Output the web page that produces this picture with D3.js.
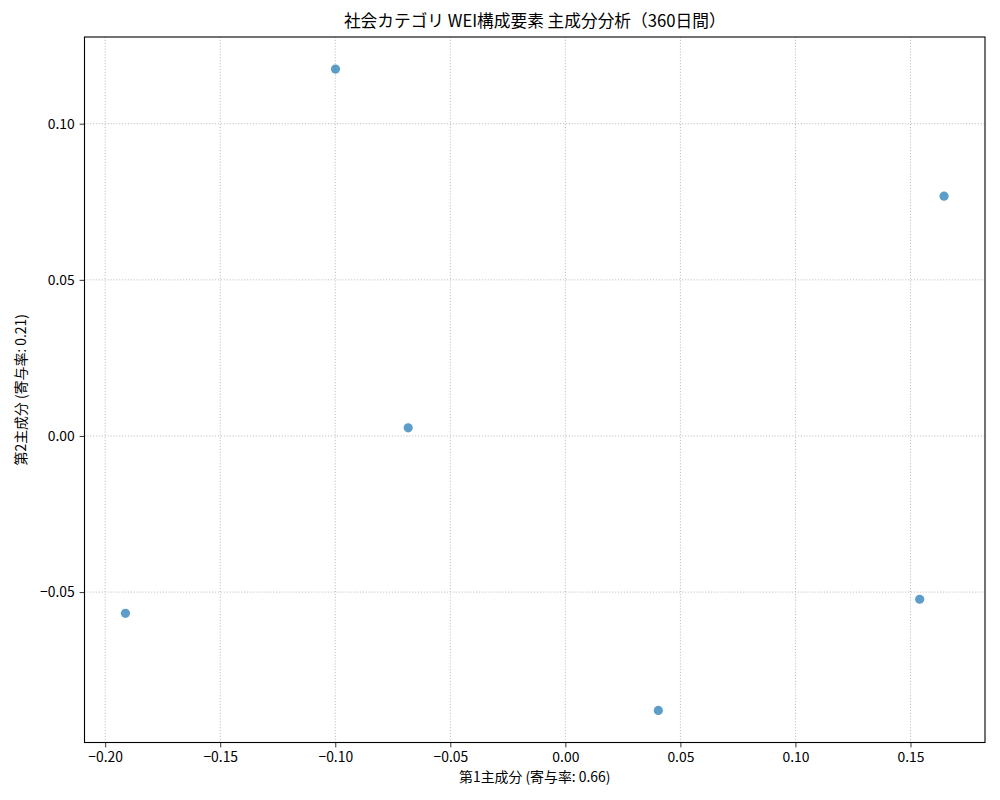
<!DOCTYPE html>
<html><head><meta charset="utf-8">
<script src="https://cdn.jsdelivr.net/npm/d3@7"></script>
<style>
body{margin:0;background:#fff;}
text{font-family:"Noto Sans CJK JP","Noto Sans",sans-serif;fill:#000;}
</style></head>
<body>
<svg id="chart" width="1000" height="800"></svg>
<script>
const pc1 = [-0.0999, 0.1646, -0.0683, -0.1912, 0.1540, 0.0404];
const pc2 = [0.1175, 0.0768, 0.0026, -0.0568, -0.0523, -0.0879];
const xTicks = [-0.20, -0.15, -0.10, -0.05, 0.00, 0.05, 0.10, 0.15];
const yTicks = [-0.05, 0.00, 0.05, 0.10];
const titleText = "社会カテゴリ WEI構成要素 主成分分析（360日間）";
const xLabel = "第1主成分 (寄与率: 0.66)";
const yLabel = "第2主成分 (寄与率: 0.21)";

const svg = d3.select("#chart");
const L = 84.5, R = 985, T = 37, B = 742.5;

function padded(arr){
  const mn = d3.min(arr), mx = d3.max(arr), m = (mx - mn) * 0.05;
  return [mn - m, mx + m];
}
const x = d3.scaleLinear().domain(padded(pc1)).range([L, R]);
const y = d3.scaleLinear().domain(padded(pc2)).range([B, T]);
const fmt = v => d3.format(".2f")(v).replace("-", "\u2212");

// grid
const grid = svg.append("g");
grid.selectAll("line.gx").data(xTicks).join("line")
  .attr("x1", d => x(d)).attr("x2", d => x(d)).attr("y1", T).attr("y2", B)
  .attr("stroke", "#bdbdbd").attr("stroke-width", 1)
  .attr("stroke-dasharray", "1.1,1.8");
grid.selectAll("line.gy").data(yTicks).join("line")
  .attr("y1", d => y(d)).attr("y2", d => y(d)).attr("x1", L).attr("x2", R)
  .attr("stroke", "#bdbdbd").attr("stroke-width", 1)
  .attr("stroke-dasharray", "1.1,1.8");

// axes
const xAxis = d3.axisBottom(x).tickValues(xTicks).tickFormat(fmt).tickSize(4.9).tickPadding(4.9);
const yAxis = d3.axisLeft(y).tickValues(yTicks).tickFormat(fmt).tickSize(4.9).tickPadding(4.9);
const gx = svg.append("g").attr("transform", `translate(0,${B})`).call(xAxis);
const gy = svg.append("g").attr("transform", `translate(${L},0)`).call(yAxis);
[gx, gy].forEach(g => {
  g.select(".domain").remove();
  g.selectAll(".tick line").attr("stroke", "#000").attr("stroke-width", 0.8);
  g.selectAll(".tick text").attr("font-size", 13.9).attr("font-family", '"Noto Sans CJK JP",sans-serif').attr("fill", "#000");
});

// points
svg.append("g").selectAll("circle").data(pc1.map((v, i) => [v, pc2[i]])).join("circle")
  .attr("cx", d => x(d[0])).attr("cy", d => y(d[1])).attr("r", 4.6)
  .attr("fill", "#1f77b4").attr("fill-opacity", 0.72);

// frame
svg.append("rect").attr("x", L).attr("y", T).attr("width", R - L).attr("height", B - T)
  .attr("fill", "none").attr("stroke", "#000").attr("stroke-width", 1.1);

// texts
svg.append("text").attr("x", (L + R) / 2).attr("y", 27).attr("text-anchor", "middle")
  .attr("font-size", 16.7).text(titleText);
svg.append("text").attr("x", (L + R) / 2).attr("y", 782).attr("text-anchor", "middle")
  .attr("font-size", 13.9).text(xLabel);
svg.append("text").attr("transform", `translate(26,${(T + B) / 2}) rotate(-90)`)
  .attr("text-anchor", "middle").attr("font-size", 13.9).text(yLabel);
</script>
</body></html>
